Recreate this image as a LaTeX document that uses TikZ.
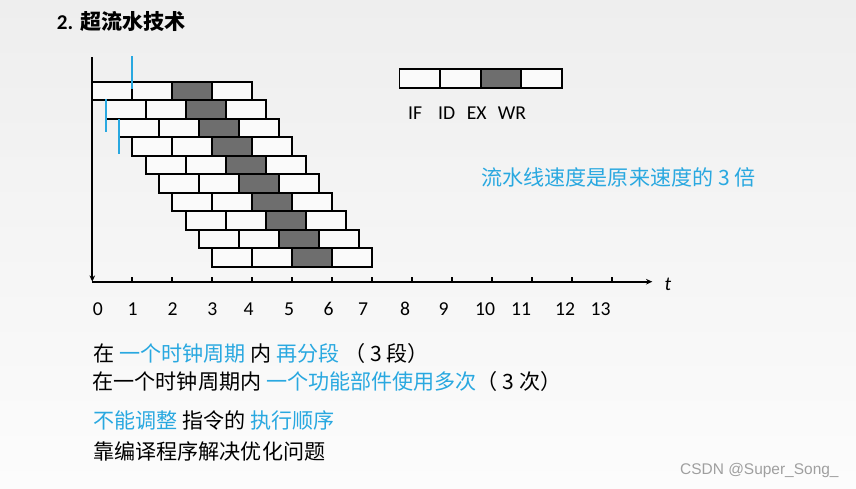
\documentclass[tikz,border=0pt]{standalone}
\usepackage{fontspec}
\setmainfont{Carlito}
\newfontfamily\cjk{Noto Sans CJK SC}
\newfontfamily\marksans{Liberation Sans}
\usetikzlibrary{arrows.meta}

\definecolor{skyblue}{RGB}{41,168,224}
\definecolor{stagegray}{RGB}{110,110,110}
\definecolor{cellwhite}{RGB}{250,250,250}
\definecolor{bgtop}{RGB}{238,238,238}
\definecolor{bgbottom}{RGB}{252,252,252}

\tikzset{
  cell/.style={fill=cellwhite, draw=black, line width=1.3pt},
  excell/.style={fill=stagegray, draw=black, line width=1.3pt},
  cn/.style={font=\cjk\fontsize{15}{18}\selectfont, inner sep=0pt, anchor=west},
  num/.style={font=\fontsize{14}{16}\selectfont, inner sep=0pt},
  axis/.style={line width=1.3pt, -{Stealth[length=4.5pt,width=4pt]}},
  bluemark/.style={draw=skyblue, line width=1.3pt}
}

\begin{document}
\begin{tikzpicture}
  \shade[top color=bgtop, bottom color=bgbottom] (-2.3075,-5.1575) rectangle (19.0925,7.0425);
  \useasboundingbox (-2.3075,-5.1575) rectangle (19.0925,7.0425);

  % title
  \node[anchor=west, inner sep=0pt, font=\fontsize{15}{18}\selectfont\bfseries] (title) at (-0.89,6.5)
    {2.\hspace{5pt}{\cjk\bfseries 超流水技术}};

  % axes
  \draw[axis] (0,5.61) -- (0,0);
  \draw[axis] (0,0) -- (14,0);
  \foreach \x in {1,...,13} { \draw[line width=1.3pt] (\x,0) -- (\x,0.13); }

  % ten instructions, each shifted by a third of a cycle
  \foreach \i in {0,...,9} {
    \foreach \s in {0,1,3} { \draw[cell] ({\i/3+\s},{5-0.4625*\i}) rectangle ++(1,-0.4625); }
    \draw[excell] ({\i/3+2},{5-0.4625*\i}) rectangle ++(1,-0.4625);
  }

  % blue marks
  \draw[bluemark] (1,5.64) -- (1,4.81);
  \draw[bluemark] (1/3,4.5675) -- (1/3,3.735);
  \draw[bluemark] (2/3,4.0675) -- (2/3,3.19);

  % legend
  \foreach \s in {0,1,3} { \draw[cell] ({7.68+1.015*\s},5.3175) rectangle ++(1.015,-0.4825); }
  \draw[excell] (9.71,5.3175) rectangle ++(1.015,-0.4825);
  \foreach \n/\x in {IF/8.07, ID/8.86, EX/9.61, WR/10.49} {
    \node[num] (stage-\n) at (\x,4.22) {\n};
  }

  % time labels
  \foreach \n/\x in {0/0.14, 1/1.01, 2/2.01, 3/3.0, 4/3.91, 5/4.92, 6/5.91, 7/6.77,
                     8/7.82, 9/8.78, 10/9.82, 11/10.72, 12/11.82, 13/12.71} {
    \node[num] (time-\n) at (\x,-0.68) {\n};
  }
  \node[num, font=\fontsize{14}{16}\selectfont\itshape] (tlabel) at (14.39,-0.06) {t};

  \node[cn, text=skyblue] (speedup) at (9.72,2.6) {流水线速度是原来速度的 3 倍};

  % notes
  \node[cn] (note1) at (0.02,-1.79)
    {在 \textcolor{skyblue}{一个时钟周期} 内 \textcolor{skyblue}{再分段} （ 3 段）};
  \node[cn] (note2) at (0,-2.5)
    {在一个时钟周期内 \textcolor{skyblue}{一个功能部件使用多次}（ 3 次）};
  \node[cn] (note3) at (0.02,-3.46)
    {\textcolor{skyblue}{不能调整} 指令的 \textcolor{skyblue}{执行顺序}};
  \node[cn] (note4) at (0.02,-4.25) {靠编译程序解决优化问题};

  \node[anchor=west, inner sep=0pt, text=gray!75, font=\marksans\fontsize{11}{13}\selectfont]
    (credit) at (14.69,-4.725) {CSDN @Super\_Song\_};
\end{tikzpicture}
\end{document}
